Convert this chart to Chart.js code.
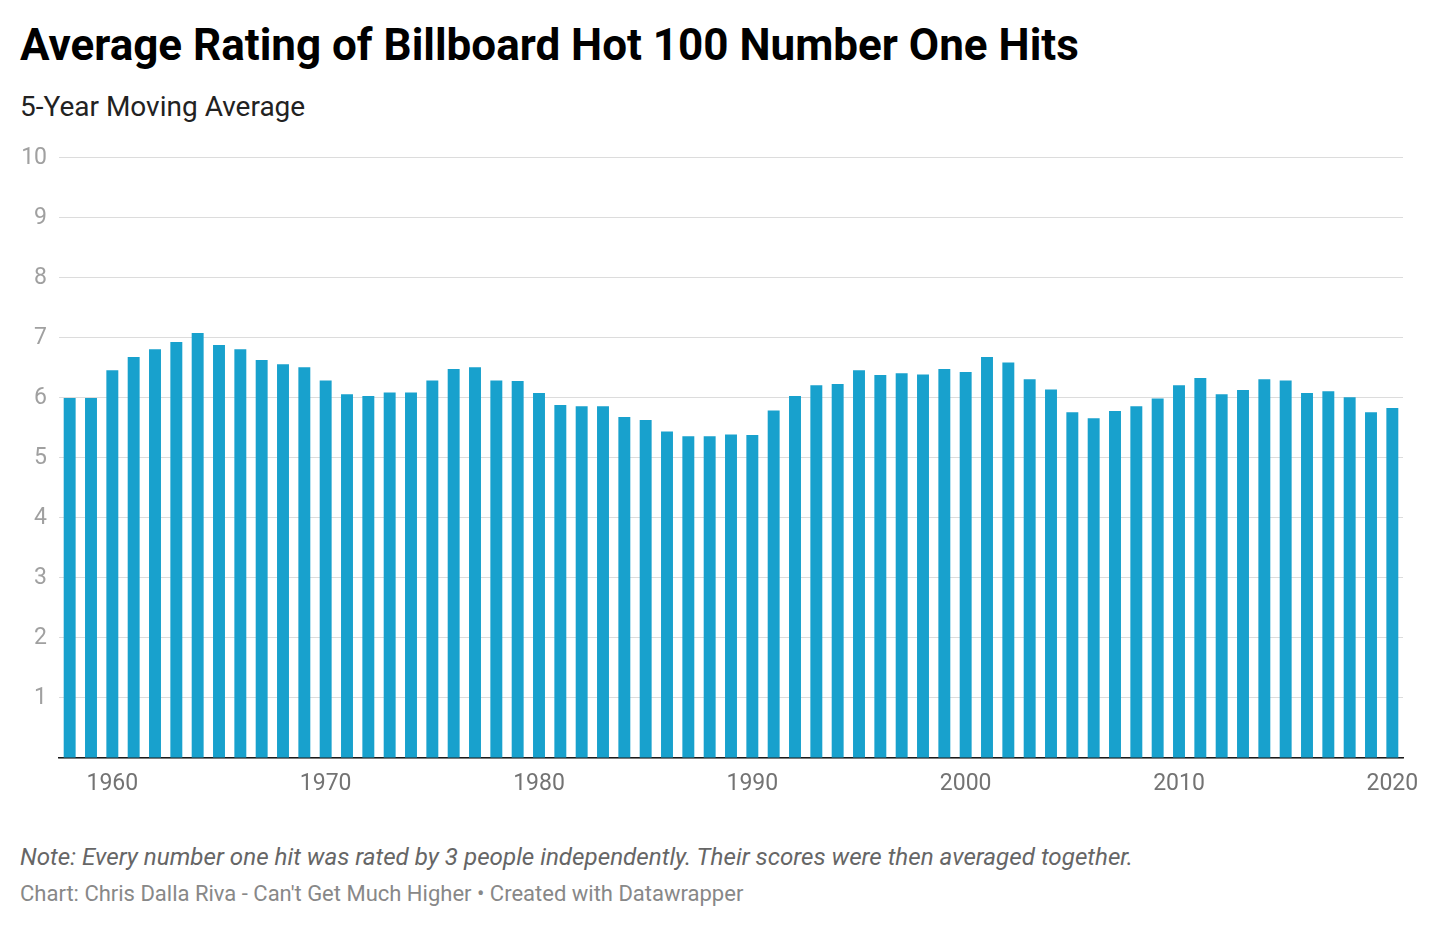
<!DOCTYPE html>
<html>
<head>
<meta charset="utf-8">
<script src="https://cdn.jsdelivr.net/npm/chart.js@4"></script>
<style>
  body { margin: 0; background: #fff; font-family: Roboto, sans-serif; width: 1440px; height: 928px; position: relative; overflow: hidden; }
  .title { position: absolute; left: 20px; top: 18px; font-size: 44px; font-weight: 700; color: #000; line-height: 54px; white-space: nowrap; }
  .sub { position: absolute; left: 20px; top: 89px; font-size: 28px; color: #222; line-height: 36px; white-space: nowrap; }
  .note { position: absolute; left: 20px; top: 841px; font-size: 24.2px; font-style: italic; color: #666; line-height: 32px; white-space: nowrap; }
  .src { position: absolute; left: 20px; top: 879px; font-size: 22px; color: #888; line-height: 30px; white-space: nowrap; }
  .wrap { position: absolute; left: 0; top: 132px; width: 1440px; height: 666px; }
</style>
</head>
<body>
<div class="title">Average Rating of Billboard Hot 100 Number One Hits</div>
<div class="sub">5-Year Moving Average</div>
<div class="wrap"><canvas id="myChart"></canvas></div>
<div class="note">Note: Every number one hit was rated by 3 people independently. Their scores were then averaged together.</div>
<div class="src">Chart: Chris Dalla Riva - Can't Get Much Higher • Created with Datawrapper</div>
<script>
const years = [];
for (let y = 1958; y <= 2020; y++) years.push(String(y));

const ratings = [
  6.00, 6.00, 6.46, 6.68, 6.81, 6.93, 7.08, 6.88, 6.81, 6.63,
  6.56, 6.51, 6.29, 6.06, 6.03, 6.09, 6.09, 6.29, 6.48, 6.51,
  6.29, 6.28, 6.08, 5.88, 5.86, 5.86, 5.68, 5.63, 5.44, 5.36,
  5.36, 5.39, 5.38, 5.79, 6.03, 6.21, 6.23, 6.46, 6.38, 6.41,
  6.39, 6.48, 6.43, 6.68, 6.59, 6.31, 6.14, 5.76, 5.66, 5.78,
  5.86, 5.99, 6.21, 6.33, 6.06, 6.13, 6.31, 6.29, 6.08, 6.11,
  6.01, 5.76, 5.83
];

const yTicks = [0, 1, 2, 3, 4, 5, 6, 7, 8, 9, 10];

const config = {
  type: 'bar',
  data: {
    labels: years,
    datasets: [{
      label: 'Average rating',
      data: ratings,
      backgroundColor: '#18a1cd',
      borderWidth: 0,
      barPercentage: 0.56,
      categoryPercentage: 1
    }]
  },
  options: {
    responsive: true,
    maintainAspectRatio: false,
    animation: false,
    layout: { padding: { top: 17, right: 37, bottom: 0, left: 0 } },
    plugins: {
      legend: { display: false },
      tooltip: { enabled: false }
    },
    scales: {
      x: {
        grid: { display: false, drawTicks: false },
        border: { display: true, color: '#1a1a1a', width: 1.5 },
        ticks: {
          autoSkip: false,
          maxRotation: 0,
          padding: 12,
          color: '#737373',
          font: { family: 'Roboto', size: 23 },
          callback: function (val) {
            const y = Number(this.getLabelForValue(val));
            return y % 10 === 0 ? String(y) : '';
          }
        },
        afterFit: (axis) => { axis.height = 40; }
      },
      y: {
        min: 0,
        max: 10,
        afterBuildTicks: (axis) => { axis.ticks = yTicks.map(v => ({ value: v })); },
        grid: { color: '#dcdcdc', lineWidth: 1, drawTicks: false },
        border: { display: false },
        ticks: {
          padding: 12,
          color: '#a0a0a0',
          font: { family: 'Roboto', size: 23 },
          callback: (v) => v === 0 ? '' : String(v)
        },
        afterFit: (axis) => { axis.width = 59; }
      }
    }
  }
};

const ctx = document.getElementById('myChart');
const myChart = new Chart(ctx, config);
</script>
</body>
</html>
